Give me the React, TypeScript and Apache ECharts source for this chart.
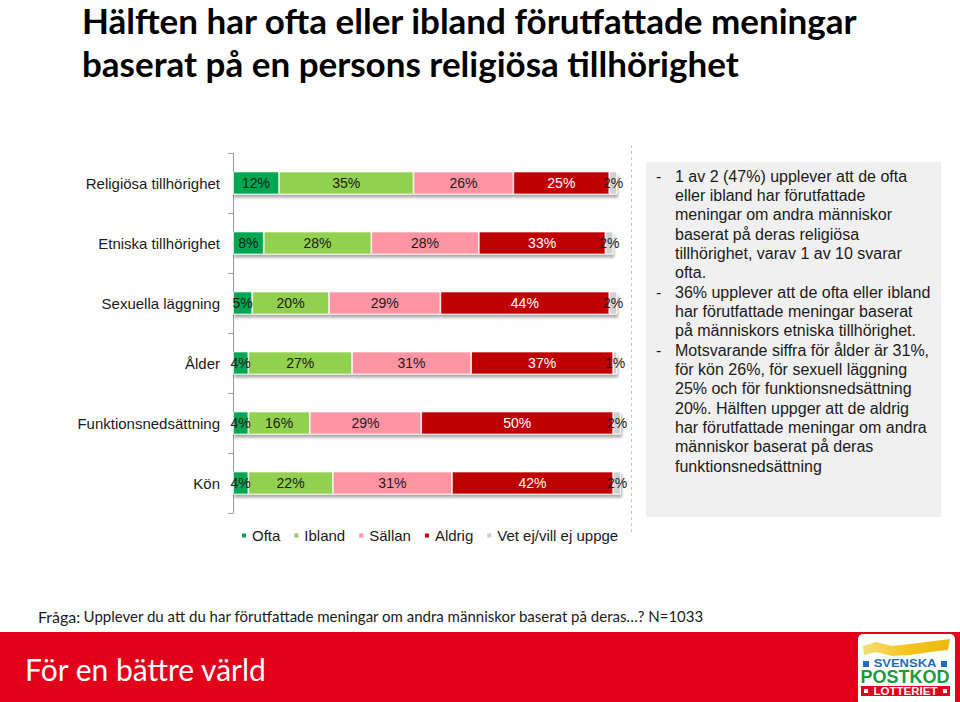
import React, { useEffect, useRef } from "react";
import * as echarts from "echarts";

const categories = [
  "Religiösa tillhörighet",
  "Etniska tillhörighet",
  "Sexuella läggning",
  "Ålder",
  "Funktionsnedsättning",
  "Kön",
];
const seriesNames = ["Ofta", "Ibland", "Sällan", "Aldrig", "Vet ej/vill ej uppge"];
const ofta = [12, 8, 5, 4, 4, 4];
const ibland = [35, 28, 20, 27, 16, 22];
const sallan = [26, 28, 29, 31, 29, 31];
const aldrig = [25, 33, 44, 37, 50, 42];
const vetEj = [2, 2, 2, 1, 2, 2];

const titleLines = [
  "Hälften har ofta eller ibland förutfattade meningar",
  "baserat på en persons religiösa tillhörighet",
];

// [bullet?, text]
const boxLines: [boolean, string][] = [
  [true, "1 av 2 (47%) upplever att de ofta"],
  [false, "eller ibland har förutfattade"],
  [false, "meningar om andra människor"],
  [false, "baserat på deras religiösa"],
  [false, "tillhörighet, varav 1 av 10 svarar"],
  [false, "ofta."],
  [true, "36% upplever att de ofta eller ibland"],
  [false, "har förutfattade meningar baserat"],
  [false, "på människors etniska tillhörighet."],
  [true, "Motsvarande siffra för ålder är 31%,"],
  [false, "för kön 26%, för sexuell läggning"],
  [false, "25% och för funktionsnedsättning"],
  [false, "20%. Hälften uppger att de aldrig"],
  [false, "har förutfattade meningar om andra"],
  [false, "människor baserat på deras"],
  [false, "funktionsnedsättning"],
];

const colors = ["#00a651", "#92d050", "#ff95a3", "#c00000", "#d0d0d0"];
const labelColors = ["#1a1a1a", "#1a1a1a", "#1a1a1a", "#ffffff", "#1a1a1a"];
const FONT = "Liberation Sans, Arial, sans-serif";

export default function App() {
  const ref = useRef<HTMLDivElement>(null);
  useEffect(() => {
    document.body.style.margin = "0";
    if (!ref.current) return;
    const chart = echarts.init(ref.current, null, { renderer: "svg" });
    const values = [ofta, ibland, sallan, aldrig, vetEj];

    const graphics: any[] = [];
    titleLines.forEach((t, i) => {
      graphics.push({
        type: "text",
        x: 82,
        y: 20 + i * 43,
        style: {
          text: t,
          font: "bold 35px Lato, sans-serif",
          fill: "#000",
          verticalAlign: "middle",
        },
      });
    });
    graphics.push({
      type: "line",
      shape: { x1: 631.5, y1: 145, x2: 631.5, y2: 532 },
      style: { stroke: "#c8c8c8", lineWidth: 1, lineDash: [3, 3] },
    });
    graphics.push({
      type: "rect",
      shape: { x: 646, y: 162, width: 295, height: 355 },
      style: { fill: "#f0f0f0" },
    });
    boxLines.forEach(([b, t], i) => {
      const y = 176 + i * 19.35;
      if (b) {
        graphics.push({
          type: "text",
          x: 656,
          y,
          style: { text: "-", font: `16px ${FONT}`, fill: "#1a1a1a", verticalAlign: "middle" },
        });
      }
      graphics.push({
        type: "text",
        x: 675,
        y,
        style: { text: t, font: `16px ${FONT}`, fill: "#1a1a1a", verticalAlign: "middle" },
      });
    });
    graphics.push({
      type: "text",
      x: 38,
      y: 616,
      style: {
        text: "{a|Fråga:} {b|Upplever du att du har förutfattade meningar om andra människor baserat på deras…? N=1033}",
        verticalAlign: "middle",
        rich: {
          a: { font: "16px Lato, sans-serif", fill: "#1a1a1a" },
          b: { font: "15px Lato, sans-serif", fill: "#1a1a1a" },
        },
      },
    });
    graphics.push({
      type: "rect",
      shape: { x: 0, y: 632, width: 960, height: 70 },
      style: { fill: "#e2001a" },
    });
    graphics.push({
      type: "text",
      x: 25,
      y: 669,
      style: {
        text: "För en bättre värld",
        font: "30px Lato, sans-serif",
        fill: "#ffffff",
        verticalAlign: "middle",
      },
    });
    // logo
    graphics.push({
      type: "rect",
      shape: { x: 858, y: 634, width: 97, height: 74, r: 5 },
      style: { fill: "#ffffff" },
    });
    graphics.push({
      type: "polygon",
      shape: {
        points: [
          [863, 646], [876, 642], [892, 646], [910, 644], [934, 641], [950, 639],
          [948, 650], [930, 652], [910, 655], [892, 656], [876, 652], [864, 655],
        ],
      },
      style: {
        fill: new echarts.graphic.LinearGradient(0, 0, 1, 0, [
          { offset: 0, color: "#f4dc7a" },
          { offset: 0.5, color: "#f6c51c" },
          { offset: 1, color: "#e9b714" },
        ]),
      },
    });
    graphics.push({
      type: "rect",
      shape: { x: 863, y: 661, width: 6, height: 6 },
      style: { fill: "#1f6db8" },
    });
    graphics.push({
      type: "rect",
      shape: { x: 941, y: 661, width: 6, height: 6 },
      style: { fill: "#1f6db8" },
    });
    graphics.push({
      type: "text",
      x: 905,
      y: 664,
      scaleX: 1.3,
      style: {
        text: "SVENSKA",
        font: `bold 10px ${FONT}`,
        fill: "#1f6db8",
        align: "center",
        verticalAlign: "middle",
      },
    });
    graphics.push({
      type: "text",
      x: 905,
      y: 677,
      style: {
        text: "POSTKOD",
        font: `bold 18px ${FONT}`,
        fill: "#1c9a3c",
        align: "center",
        verticalAlign: "middle",
      },
    });
    graphics.push({
      type: "rect",
      shape: { x: 861, y: 686, width: 89, height: 10 },
      style: { fill: "#e2001a" },
    });
    graphics.push({
      type: "rect",
      shape: { x: 864, y: 689, width: 4, height: 4 },
      style: { fill: "#ffffff" },
    });
    graphics.push({
      type: "rect",
      shape: { x: 943, y: 689, width: 4, height: 4 },
      style: { fill: "#ffffff" },
    });
    graphics.push({
      type: "text",
      x: 905.5,
      y: 691.5,
      scaleX: 1.15,
      style: {
        text: "LOTTERIET",
        font: `bold 10px ${FONT}`,
        fill: "#ffffff",
        align: "center",
        verticalAlign: "middle",
      },
    });

    const option: any = {
      animation: false,
      backgroundColor: "#ffffff",
      textStyle: { fontFamily: FONT },
      grid: { left: 233, top: 153, width: 384, height: 360, containLabel: false },
      legend: {
        data: seriesNames,
        left: 235,
        top: 523,
        icon: "rect",
        itemWidth: 6,
        itemHeight: 6,
        itemGap: 12,
        textStyle: { fontSize: 15, color: "#1a1a1a", fontFamily: FONT },
      },
      xAxis: { type: "value", min: 0, max: 100, show: false },
      yAxis: {
        type: "category",
        data: categories,
        inverse: true,
        axisLine: { show: true, lineStyle: { color: "#999" } },
        axisTick: { show: true, length: 5, lineStyle: { color: "#999" } },
        axisLabel: { fontSize: 15, color: "#1a1a1a", margin: 13, fontFamily: FONT },
      },
      series: seriesNames.map((name, i) => ({
        name,
        type: "bar",
        stack: "total",
        barWidth: 23,
        clip: false,
        data: values[i],
        itemStyle: {
          color: colors[i],
          borderColor: "#ffffff",
          borderWidth: 0.8,
          shadowColor: "rgba(0,0,0,0.35)",
          shadowBlur: 3,
          shadowOffsetX: 1,
          shadowOffsetY: 3,
        },
        label: {
          show: true,
          position: "inside",
          formatter: "{c}%",
          fontSize: 14,
          color: labelColors[i],
          fontFamily: FONT,
        },
      })),
      graphic: graphics,
    };
    chart.setOption(option);
    return () => chart.dispose();
  }, []);
  return (
    <div
      ref={ref}
      style={{ width: 960, height: 702, position: "absolute", left: 0, top: 0 }}
    />
  );
}
